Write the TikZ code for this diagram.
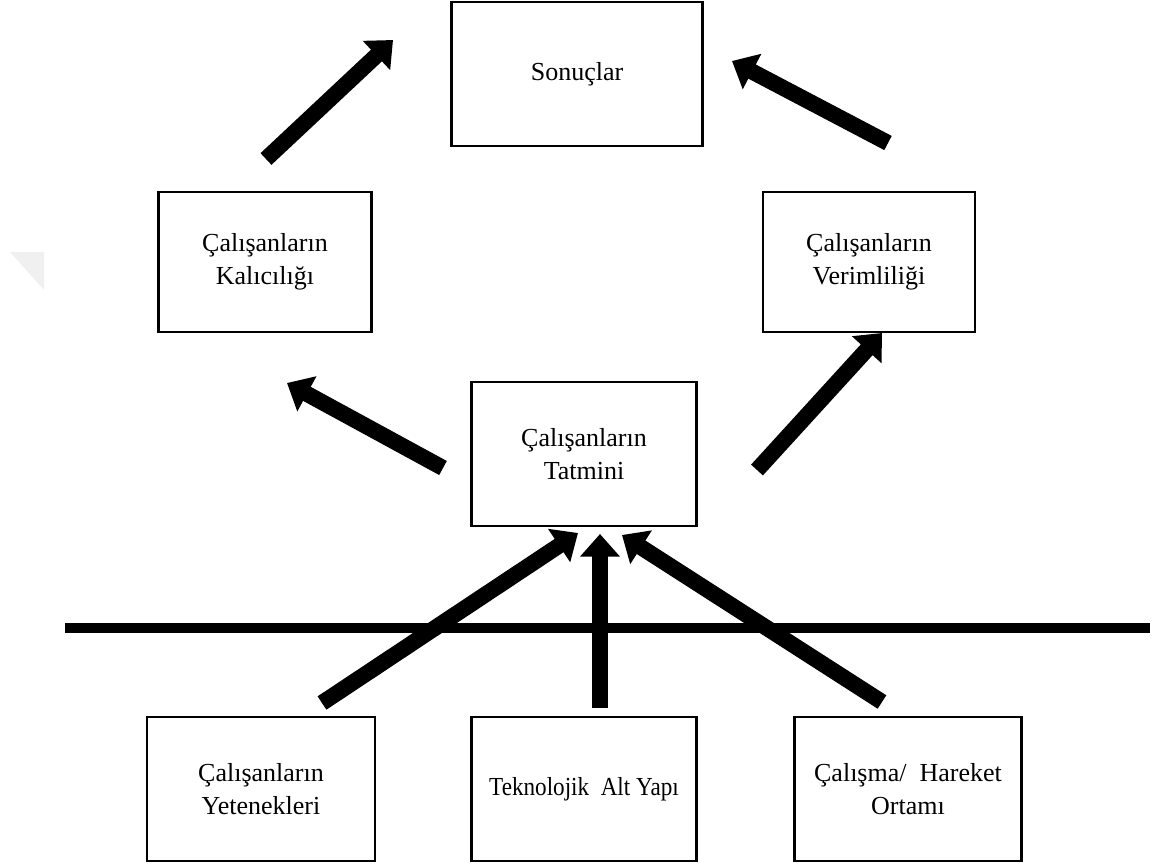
\documentclass[tikz,border=0pt]{standalone}
\usepackage{fontspec}
\setmainfont{Liberation Serif}
\usetikzlibrary{arrows.meta}

\tikzset{
  kutu/.style={draw, line width=2pt, align=center, inner sep=0pt,
    font=\fontsize{19.5}{25}\selectfont},
  okcizgi/.style={line width=12pt, -{Triangle[width=29pt,length=17pt]}}
}

\begin{document}
\begin{tikzpicture}[x=0.75pt,y=0.75pt,yscale=-1,xscale=1]
\useasboundingbox (0,0) rectangle (1157,865);

% soluk ucgen
\fill[gray!12] (10,252) -- (44,252) -- (44,290) -- cycle;

% kutular
\node[kutu, minimum width=188pt, minimum height=108pt] (sonuc) at (577,74) {Sonuçlar};
\node[kutu, minimum width=160pt, minimum height=105pt] (kalici) at (265,262) {Çalışanların\\Kalıcılığı};
\node[kutu, minimum width=159pt, minimum height=105pt] (verim) at (869,262) {Çalışanların\\Verimliliği};
\node[kutu, minimum width=169pt, minimum height=108pt] (tatmin) at (584,454) {Çalışanların\\Tatmini};
\node[kutu, minimum width=171pt, minimum height=108pt] (yetenek) at (261,789) {Çalışanların\\Yetenekleri};
\node[kutu, minimum width=169pt, minimum height=108pt] (teknik) at (584,789) {\scalebox{0.89}[1]{Teknolojik\ \ Alt Yapı}};
\node[kutu, minimum width=170pt, minimum height=108pt] (ortam) at (908,789) {Çalışma/\ \ Hareket\\Ortamı};

% ok uclari
\coordinate (k1) at (266,159);  \coordinate (s1) at (393,40);
\coordinate (v1) at (888,143);  \coordinate (s2) at (732,61);
\coordinate (t1) at (443,468);  \coordinate (k2) at (287,383);
\coordinate (t2) at (757,470);  \coordinate (v2) at (882,333);
\coordinate (y1) at (322,703);  \coordinate (t3) at (578,533);
\coordinate (a1) at (600,708);  \coordinate (t4) at (600,534);
\coordinate (o1) at (882,702);  \coordinate (t5) at (622,535);

% ayirici cizgi
\coordinate (solc) at (65,628);
\coordinate (sagc) at (1150,628);
\draw[line width=7pt] (solc) -- (sagc);

% oklar
\draw[okcizgi] (k1) -- (s1);
\draw[okcizgi] (v1) -- (s2);
\draw[okcizgi] (t1) -- (k2);
\draw[okcizgi] (t2) -- (v2);
\draw[okcizgi] (y1) -- (t3);
\draw[okcizgi] (a1) -- (t4);
\draw[okcizgi] (o1) -- (t5);
\end{tikzpicture}
\end{document}
